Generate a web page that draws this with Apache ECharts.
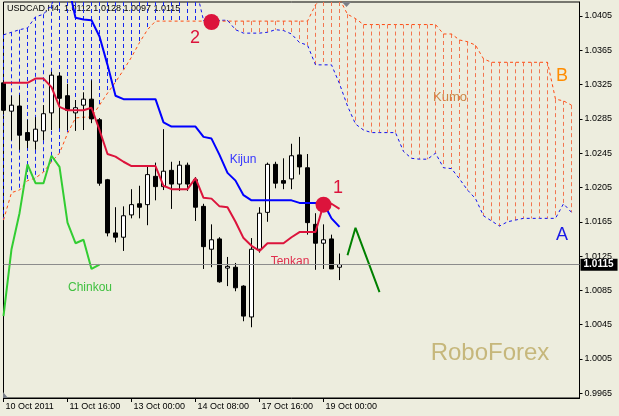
<!DOCTYPE html>
<html><head><meta charset="utf-8">
<script src="https://cdn.jsdelivr.net/npm/echarts@6/dist/echarts.min.js"></script>
<style>html,body{margin:0;padding:0;background:#EDEDDE}#c{width:619px;height:416px}</style>
</head><body><div id="c"></div>
<script>
// ---- data (USDCAD H4) ----
const xTickLabels = ['10 Oct 2011','11 Oct 16:00','13 Oct 00:00','14 Oct 08:00','17 Oct 16:00','19 Oct 00:00'];
const barsPerTick = 8;
const totalSlots = 73;
const yTicks = [0.9965,1.0005,1.0045,1.0085,1.0125,1.0165,1.0205,1.0245,1.0285,1.0325,1.0365,1.0405];

const open  = [1.0327,1.0294,1.0300,1.0269,1.0259,1.0271,1.0292,1.0335,1.0312,1.0292,1.0301,1.0308,1.0284,1.0214,1.0152,1.0147,1.0173,1.0186,1.0185,1.0218,1.0206,1.0225,1.0209,1.0231,1.0214,1.0183,1.0133,1.0145,1.0111,1.0112,1.0090,1.0054,1.0133,1.0176,1.0232,1.0213,1.0215,1.0243,1.0228,1.0162,1.0140,1.0145,1.0112];
const high  = [1.0330,1.0312,1.0313,1.0284,1.0287,1.0301,1.0340,1.0339,1.0326,1.0307,1.0316,1.0330,1.0286,1.0215,1.0182,1.0183,1.0203,1.0207,1.0229,1.0234,1.0273,1.0235,1.0236,1.0234,1.0217,1.0186,1.0162,1.0147,1.0124,1.0117,1.0091,1.0146,1.0182,1.0234,1.0235,1.0239,1.0256,1.0264,1.0244,1.0175,1.0162,1.0150,1.0128];
const low   = [1.0290,1.0260,1.0249,1.0251,1.0249,1.0260,1.0272,1.0274,1.0272,1.0271,1.0272,1.0280,1.0207,1.0148,1.0141,1.0131,1.0169,1.0169,1.0161,1.0190,1.0202,1.0180,1.0201,1.0201,1.0166,1.0110,1.0112,1.0094,1.0090,1.0084,1.0049,1.0042,1.0129,1.0165,1.0204,1.0203,1.0203,1.0220,1.0150,1.0109,1.0110,1.0110,1.0097];
const close = [1.0295,1.0301,1.0266,1.0260,1.0273,1.0291,1.0336,1.0309,1.0295,1.0298,1.0308,1.0285,1.0210,1.0152,1.0147,1.0172,1.0185,1.0182,1.0220,1.0206,1.0224,1.0209,1.0231,1.0209,1.0182,1.0136,1.0144,1.0095,1.0113,1.0088,1.0055,1.0133,1.0175,1.0232,1.0210,1.0210,1.0242,1.0229,1.0164,1.0140,1.0144,1.0110,1.0115];

const tenkan = [1.0327,1.0327,1.0327,1.0327,1.0332,1.0332,1.0322,1.0299,1.0295,1.0295,1.0295,1.0298,1.0272,1.0244,1.0241,1.0235,1.0230,1.0230,1.0230,1.0230,1.0207,1.0203,1.0203,1.0203,1.0216,1.0193,1.0192,1.0183,1.0182,1.0165,1.0146,1.0137,1.0131,1.0140,1.0140,1.0140,1.0147,1.0153,1.0153,1.0153,1.0185,1.0186,1.0180];
const kijunFirstBar = 8;
const kijun = [1.0445,1.0403,1.0401,1.0400,1.0381,1.0348,1.0312,1.0308,1.0308,1.0308,1.0308,1.0308,1.0281,1.0276,1.0276,1.0276,1.0276,1.0264,1.0262,1.0243,1.0222,1.0213,1.0196,1.0190,1.0190,1.0190,1.0190,1.0190,1.0190,1.0187,1.0187,1.0187,1.0187,1.0169,1.0159];
const chinkou = [1.0055,1.0133,1.0175,1.0232,1.0210,1.0210,1.0242,1.0229,1.0164,1.0140,1.0144,1.0110,1.0115];
const spanA = [1.0383,1.0386,1.0389,1.0391,1.0404,1.0407,1.0418,
  1.0440,1.0440,1.0440,1.0440,1.0440,1.0440,1.0440,1.0440,1.0440,1.0440,1.0440,1.0440,1.0440,1.0440,1.0440,1.0440,1.0440,1.0440,
  1.0400,1.0400,1.0400,1.0400,1.0389,1.0385,1.0385,1.0385,1.0386,1.0389,1.0388,1.0384,1.0374,1.0371,1.0348,1.0348,1.0348,1.0326,
  1.0300,1.0279,1.0272,1.0269,1.0269,1.0269,1.0269,1.0247,1.0239,1.0238,1.0238,1.0245,1.0228,1.0227,1.0215,1.0202,1.0192,1.0172,
  1.0166,1.0160,1.0165,1.0167,1.0169,1.0169,1.0169,1.0169,1.0169,1.0186,1.0176];
const spanB = [1.0167,1.0199,1.0202,1.0213,1.0216,1.0223,1.0235,1.0245,1.0268,1.0286,1.0287,1.0287,1.0301,1.0315,1.0328,1.0342,1.0357,1.0374,1.0389,
  1.0399,1.0399,1.0399,1.0399,1.0399,1.0399,1.0399,1.0399,1.0399,1.0399,1.0399,1.0399,1.0399,1.0399,1.0399,1.0399,1.0399,1.0399,1.0399,1.0399,
  1.0418,1.0428,1.0428,1.0425,1.0407,1.0402,
  1.0395,1.0395,1.0395,1.0395,1.0395,1.0395,1.0395,1.0395,1.0395,1.0395,
  1.0384,1.0384,1.0377,1.0375,1.0371,1.0355,
  1.0351,1.0351,1.0351,1.0351,1.0351,1.0351,1.0351,1.0351,
  1.0308,1.0306,1.0301];
const forecastBars = [43,44,47];
const forecastVals = [1.0126,1.0158,1.0083];
const signalBars = [40,26];
const signalVals = [1.0185,1.0398];
const lastPrice = 1.0115;

// ---- chart ----
const Y_MIN = 0.99595, Y_MAX = 1.04213;
const cats = Array.from({length: totalSlots}, (_, i) => String(i));
const pairs = (arr, start) => arr.map((v, k) => [k + (start || 0), v]);
const tickShown = i => i % barsPerTick === 0 && i / barsPerTick < xTickLabels.length;
const FONT = '"Liberation Sans", Arial, sans-serif';
const clampY = v => Math.min(Math.max(v, Y_MIN), Y_MAX);
const hatch = (upper) => spanA.map((a, i) => {
  const b = spanB[i];
  if (upper === 'A' ? !(a >= b) : !(b > a)) return null;
  return {coords: [[i, clampY(Math.max(a, b))], [i, clampY(Math.min(a, b))]]};
}).filter(Boolean);

const chart = echarts.init(document.getElementById('c'), null, {renderer: 'canvas'});
chart.setOption({
  backgroundColor: '#EDEDDE',
  animation: false,
  grid: {left: 3.5, right: 39.5, top: 2, bottom: 18, show: true, borderColor: '#000', borderWidth: 1, backgroundColor: 'transparent'},
  xAxis: {
    type: 'category', data: cats, boundaryGap: false,
    axisLine: {show: true, lineStyle: {color: '#000'}},
    axisTick: {show: true, interval: (i) => tickShown(i), length: 4, lineStyle: {color: '#000'}},
    axisLabel: {interval: (i) => tickShown(i), formatter: (v, i) => xTickLabels[i / barsPerTick] || '',
      align: 'left', margin: 4, fontSize: 9, fontFamily: FONT, color: '#000', padding: [0, 0, 0, 2]},
    splitLine: {show: false}
  },
  yAxis: {
    type: 'value', position: 'right', min: Y_MIN, max: Y_MAX, scale: true,
    axisLine: {show: true, lineStyle: {color: '#000'}},
    axisTick: {show: true, customValues: yTicks, length: 3, lineStyle: {color: '#000'}},
    axisLabel: {customValues: yTicks, formatter: v => v.toFixed(4), fontSize: 9, fontFamily: FONT, color: '#000', margin: 5},
    splitLine: {show: false}
  },
  series: [
    { type: 'lines', coordinateSystem: 'cartesian2d', z: 1, silent: true, data: hatch('A'),
      lineStyle: {color: '#1426F0', width: 1, type: [4, 3], opacity: 1} },
    { type: 'lines', coordinateSystem: 'cartesian2d', z: 1, silent: true, data: hatch('B'),
      lineStyle: {color: '#F27650', width: 1, type: [4, 3], opacity: 1} },
    { type: 'line', z: 2, data: pairs(spanA), symbol: 'none', clip: true, silent: true,
      lineStyle: {color: '#1010F0', width: 1, type: [3, 3]} },
    { type: 'line', z: 2, data: pairs(spanB), symbol: 'none', clip: true, silent: true,
      lineStyle: {color: '#FF4A10', width: 1, type: [3, 3]} },
    { type: 'candlestick', z: 3, barWidth: 4, clip: true,
      data: open.map((o, i) => [o, close[i], low[i], high[i]]),
      itemStyle: {color: '#FFFFFF', color0: '#000000', borderColor: '#000000', borderColor0: '#000000', borderWidth: 1} },
    { type: 'line', z: 4, data: pairs(tenkan), symbol: 'none', lineStyle: {color: '#DC143C', width: 2},
      markLine: {silent: true, symbol: 'none', animation: false, precision: 4,
        lineStyle: {color: '#8C8C8C', width: 1, type: 'solid'},
        label: {show: true, position: 'end', distance: 1, formatter: () => lastPrice.toFixed(4),
          backgroundColor: '#000', color: '#fff', fontSize: 10, fontWeight: 'bold', fontFamily: FONT, padding: [1, 4, 1, 3]},
        data: [{yAxis: lastPrice}]} },
    { type: 'line', z: 4, data: pairs(kijun, kijunFirstBar), symbol: 'none', clip: true, lineStyle: {color: '#0000FF', width: 2} },
    { type: 'line', z: 4, data: pairs(chinkou), symbol: 'none', lineStyle: {color: '#32CD32', width: 2} },
    { type: 'line', z: 4, data: forecastBars.map((b, k) => [b, forecastVals[k]]), symbol: 'none', lineStyle: {color: '#008000', width: 2} },
    { type: 'scatter', z: 5, data: signalBars.map((b, k) => [b, signalVals[k]]), symbol: 'circle', symbolSize: 16,
      itemStyle: {color: '#DC143C', opacity: 1} }
  ],
  graphic: [
    {type: 'text', left: 7, top: 4, style: {text: 'USDCAD,H4  1.0112 1.0128 1.0097 1.0115', font: '9px ' + FONT, fill: '#000'}},
    {type: 'text', x: 243, y: 160, style: {text: 'Kijun', font: '12px ' + FONT, fill: '#3535FF', align: 'center', verticalAlign: 'middle'}},
    {type: 'text', x: 290, y: 262, style: {text: 'Tenkan', font: '12px ' + FONT, fill: '#E0304F', align: 'center', verticalAlign: 'middle'}},
    {type: 'text', x: 90, y: 288, style: {text: 'Chinkou', font: '12px ' + FONT, fill: '#40C040', align: 'center', verticalAlign: 'middle'}},
    {type: 'text', x: 450, y: 97, style: {text: 'Kumo', font: '13px ' + FONT, fill: '#CD8545', align: 'center', verticalAlign: 'middle'}},
    {type: 'text', x: 338, y: 188, style: {text: '1', font: '18px ' + FONT, fill: '#DC143C', align: 'center', verticalAlign: 'middle'}},
    {type: 'text', x: 195, y: 38, style: {text: '2', font: '18px ' + FONT, fill: '#DC143C', align: 'center', verticalAlign: 'middle'}},
    {type: 'text', x: 562, y: 76, style: {text: 'B', font: '18px ' + FONT, fill: '#FF8C00', align: 'center', verticalAlign: 'middle'}},
    {type: 'text', x: 562, y: 235, style: {text: 'A', font: '18px ' + FONT, fill: '#1A1AE6', align: 'center', verticalAlign: 'middle'}},
    {type: 'text', x: 490, y: 353, style: {text: 'RoboForex', font: '24px ' + FONT, fill: '#C6B77B', align: 'center', verticalAlign: 'middle'}},
    {type: 'polygon', shape: {points: [[342, 2], [351, 2], [346.5, 7]]}, style: {fill: '#7A7F88'}},
    {type: 'polygon', shape: {points: [[3, 392], [3, 398], [8, 398]]}, style: {fill: '#7A7F88'}}
  ]
});
</script></body></html>
